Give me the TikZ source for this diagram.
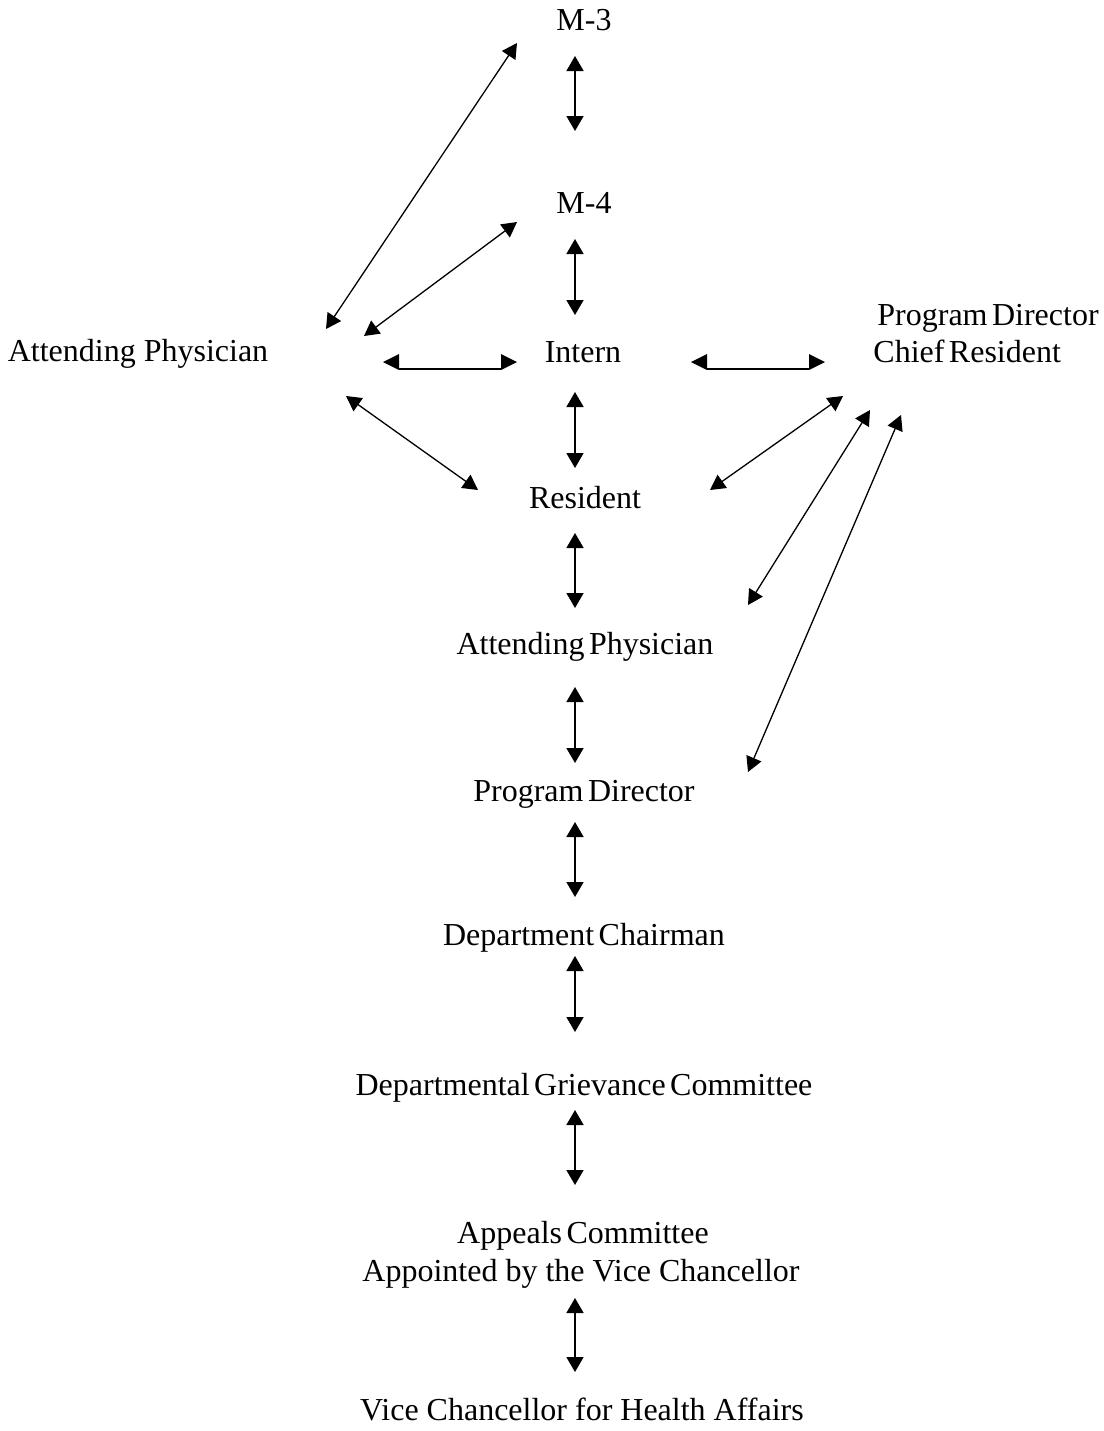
\documentclass[tikz,border=0pt]{standalone}
\usepackage{fontspec}
\setmainfont{Liberation Serif}
\usetikzlibrary{arrows.meta}
\newcommand\mynarrowspaces{\spaceskip=0.14em\relax}
\begin{document}
\begin{tikzpicture}[x=0.5pt,y=-0.5pt,
  lbl/.style={anchor=base,inner sep=0pt,font=\fontsize{16pt}{19pt}\selectfont},
  tight/.style={lbl,font={\fontsize{16pt}{19pt}\selectfont\mynarrowspaces}},
  tightw/.style={tight,anchor=base west},
  bi/.style={line width=0.65pt,{Triangle[length=7.5pt,width=8pt]}-{Triangle[length=7.5pt,width=8pt]}},
  vbi/.style={bi,line width=0.8pt,{Triangle[length=7.5pt,width=8.5pt]}-{Triangle[length=7.5pt,width=8.5pt]}},
  tipfill/.style={fill=black},
  hline/.style={line width=0.8pt}]
\useasboundingbox (0,0) rectangle (1104,1431);

% labels
\node[lbl] (m3) at (584,30) {M-3};
\node[lbl] (m4) at (584,213) {M-4};
\node[lbl] (attL) at (138,361) {Attending Physician};
\node[lbl] (intern) at (583,362) {Intern};
\node[tightw] (pdcr1) at (877,325) {Program Director};
\node[tightw] (pdcr2) at (873,362) {Chief Resident};
\node[lbl] (res) at (585,508) {Resident};
\node[tight] (attM) at (585,654) {Attending Physician};
\node[tight] (pd) at (584,801) {Program Director};
\node[tight] (dc) at (584,945) {Department Chairman};
\node[tight] (dgc) at (584,1095) {Departmental Grievance Committee};
\node[tight] (app1) at (583,1243) {Appeals Committee};
\node[lbl] (app2) at (581,1281) {Appointed by the Vice Chancellor};
\node[lbl] (vc) at (582,1420) {Vice Chancellor for Health Affairs};

% vertical connectors
\coordinate (v1a) at (575,56);   \coordinate (v1b) at (575,131);
\coordinate (v2a) at (575,239);  \coordinate (v2b) at (575,315);
\coordinate (v3a) at (575,392);  \coordinate (v3b) at (575,468);
\coordinate (v4a) at (575,533);  \coordinate (v4b) at (575,608);
\coordinate (v5a) at (575,687);  \coordinate (v5b) at (575,763);
\coordinate (v6a) at (575,822);  \coordinate (v6b) at (575,897);
\coordinate (v7a) at (575,956);  \coordinate (v7b) at (575,1032);
\coordinate (v8a) at (575,1110); \coordinate (v8b) at (575,1185);
\coordinate (v9a) at (575,1298); \coordinate (v9b) at (575,1372);
\foreach \i in {1,...,9} {\draw[vbi] (v\i a) -- (v\i b);}

% diagonal connectors
\coordinate (d1a) at (326,329); \coordinate (d1b) at (517,43);
\coordinate (d2a) at (364,336); \coordinate (d2b) at (517,222);
\coordinate (d3a) at (346,396); \coordinate (d3b) at (478,490);
\coordinate (d4a) at (843,396); \coordinate (d4b) at (710,490);
\coordinate (d5a) at (870,410); \coordinate (d5b) at (748,605);
\coordinate (d6a) at (901,415); \coordinate (d6b) at (748,772);
\foreach \i in {1,...,6} {\draw[bi] (d\i a) -- (d\i b);}

% horizontal connectors (shaft drawn below the tips)
\coordinate (hlA) at (383,362); \coordinate (hlB) at (517,362);
\coordinate (hrA) at (691,362); \coordinate (hrB) at (825,362);
\fill[tipfill] (hlA) -- ++(16,-8) -- ++(0,16) -- cycle;
\fill[tipfill] (hlB) -- ++(-16,-8) -- ++(0,16) -- cycle;
\draw[hline] ([shift={(16,7)}]hlA) -- ([shift={(-16,7)}]hlB);
\fill[tipfill] (hrA) -- ++(16,-8) -- ++(0,16) -- cycle;
\fill[tipfill] (hrB) -- ++(-16,-8) -- ++(0,16) -- cycle;
\draw[hline] ([shift={(16,7)}]hrA) -- ([shift={(-16,7)}]hrB);
\end{tikzpicture}
\end{document}
